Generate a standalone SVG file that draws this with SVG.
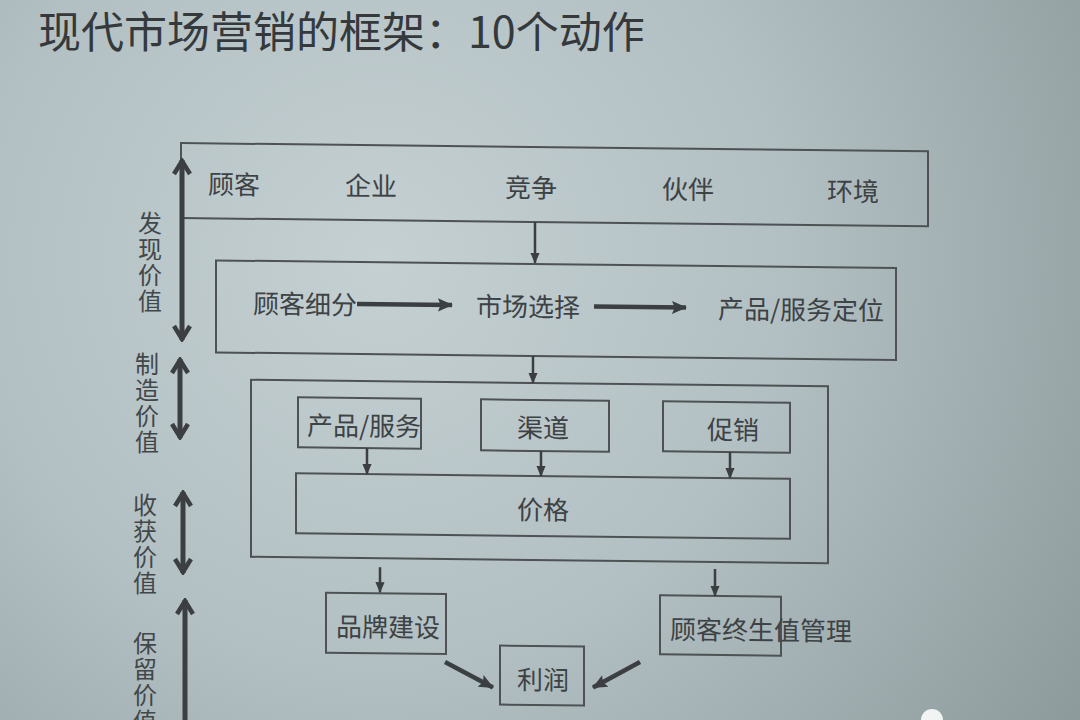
<svg xmlns="http://www.w3.org/2000/svg" width="1080" height="720" viewBox="0 0 1080 720">
<defs>
<radialGradient id="bg" cx="380" cy="260" r="900" gradientUnits="userSpaceOnUse">
<stop offset="0" stop-color="#c4d0d2"/>
<stop offset="0.45" stop-color="#b3c0c3"/>
<stop offset="1" stop-color="#879597"/>
</radialGradient>
<marker id="ah" viewBox="0 0 12 12" refX="11" refY="6" markerWidth="11" markerHeight="11" markerUnits="userSpaceOnUse" orient="auto">
<path d="M0,1 L12,6 L0,11 z" fill="#3c3f42"/>
</marker>
<marker id="ahb" viewBox="0 0 16 16" refX="15" refY="8" markerWidth="15" markerHeight="15" markerUnits="userSpaceOnUse" orient="auto">
<path d="M0,1 L16,8 L0,15 L3,8 z" fill="#3c3f42"/>
</marker>
<marker id="chev" viewBox="0 0 20 20" refX="18" refY="10" markerWidth="20" markerHeight="20" markerUnits="userSpaceOnUse" orient="auto-start-reverse">
<path d="M4,2 L17,10 L4,18" fill="none" stroke="#3c3f42" stroke-width="4.5" stroke-linejoin="miter"/>
</marker>
<style>
.t{font-family:"Noto Sans CJK SC","Noto Sans",sans-serif;fill:#3d4245;font-size:26px;text-anchor:middle;dominant-baseline:central}
.title{font-family:"Noto Sans CJK SC","Noto Sans",sans-serif;fill:#35393c;font-size:43px}
.side{font-family:"Noto Sans CJK SC","Noto Sans",sans-serif;fill:#42474a;font-size:24px;writing-mode:vertical-rl;letter-spacing:2px}
.box{fill:none;stroke:#4e5255;stroke-width:2}
.c{stroke:#3c3f42;stroke-width:2.5;fill:none}
.cb{stroke:#3c3f42;stroke-width:4.5;fill:none}
.dbl{stroke:#3c3f42;stroke-width:5;fill:none}
</style>
</defs>
<rect x="0" y="0" width="1080" height="720" fill="url(#bg)"/>

<text id="title" class="title" x="38" y="48">现代市场营销的框架：10个动作</text>

<g id="diagram" transform="matrix(1,0.011,0,1,0,-5.94)">
<g id="env">
<rect class="box" x="181" y="147" width="747" height="75"/>
<text class="t" x="234" y="186">顾客</text>
<text class="t" x="371" y="186">企业</text>
<text class="t" x="531" y="186">竞争</text>
<text class="t" x="688" y="186">伙伴</text>
<text class="t" x="853" y="186">环境</text>
</g>
<g id="stp">
<rect class="box" x="216" y="264" width="680" height="92"/>
<text class="t" x="305" y="305">顾客细分</text>
<text class="t" x="528" y="305">市场选择</text>
<text class="t" x="801" y="305">产品/服务定位</text>
</g>
<g id="mix">
<rect class="box" x="251" y="383" width="577" height="177"/>
</g>
<g id="product">
<rect class="box" x="298" y="400" width="123" height="50"/>
<text class="t" x="364" y="426">产品/服务</text>
</g>
<g id="channel">
<rect class="box" x="481" y="400" width="128" height="51"/>
<text class="t" x="543" y="426">渠道</text>
</g>
<g id="promotion">
<rect class="box" x="663" y="400" width="127" height="50"/>
<text class="t" x="733" y="426">促销</text>
</g>
<g id="price">
<rect class="box" x="296" y="476" width="494" height="60"/>
<text class="t" x="543" y="508">价格</text>
</g>
<g id="brand">
<rect class="box" x="326" y="595" width="120" height="60"/>
<text class="t" x="388" y="627">品牌建设</text>
</g>
<g id="clv">
<rect class="box" x="660" y="594" width="121" height="59"/>
<text class="t" x="761" y="626">顾客终生值管理</text>
</g>
<g id="profit">
<rect class="box" x="500" y="646" width="84" height="59"/>
<text class="t" x="543" y="678">利润</text>
</g>
<g id="connectors">
<line class="c" x1="535" y1="222" x2="535" y2="263" marker-end="url(#ah)"/>
<line class="cb" x1="357" y1="306" x2="452" y2="306" marker-end="url(#ahb)"/>
<line class="cb" x1="594" y1="306" x2="686" y2="306" marker-end="url(#ahb)"/>
<line class="c" x1="533" y1="356" x2="533" y2="383" marker-end="url(#ah)"/>
<line class="c" x1="367" y1="450" x2="367" y2="476" marker-end="url(#ah)"/>
<line class="c" x1="541" y1="451" x2="541" y2="476" marker-end="url(#ah)"/>
<line class="c" x1="730" y1="450" x2="730" y2="476" marker-end="url(#ah)"/>
<line class="c" x1="380" y1="569" x2="380" y2="594" marker-end="url(#ah)"/>
<line class="c" x1="715" y1="567" x2="715" y2="594" marker-end="url(#ah)"/>
<line class="cb" x1="445" y1="663" x2="493" y2="688" marker-end="url(#ahb)"/>
<line class="cb" x1="640" y1="661" x2="593" y2="687" marker-end="url(#ahb)"/>
</g>
</g>

<g id="phases">
<line class="dbl" x1="182" y1="160" x2="182" y2="340" marker-start="url(#chev)" marker-end="url(#chev)"/>
<text class="side" x="150" y="211">发现价值</text>
<line class="dbl" x1="180" y1="359" x2="180" y2="438" marker-start="url(#chev)" marker-end="url(#chev)"/>
<text class="side" x="147" y="352">制造价值</text>
<line class="dbl" x1="183" y1="492" x2="183" y2="573" marker-start="url(#chev)" marker-end="url(#chev)"/>
<text class="side" x="145" y="493">收获价值</text>
<line class="dbl" x1="185" y1="600" x2="185" y2="740" marker-start="url(#chev)" marker-end="url(#chev)"/>
<text class="side" x="145" y="631">保留价值</text>
</g>

<circle cx="932" cy="720" r="11" fill="#f2f4f4"/>
</svg>
